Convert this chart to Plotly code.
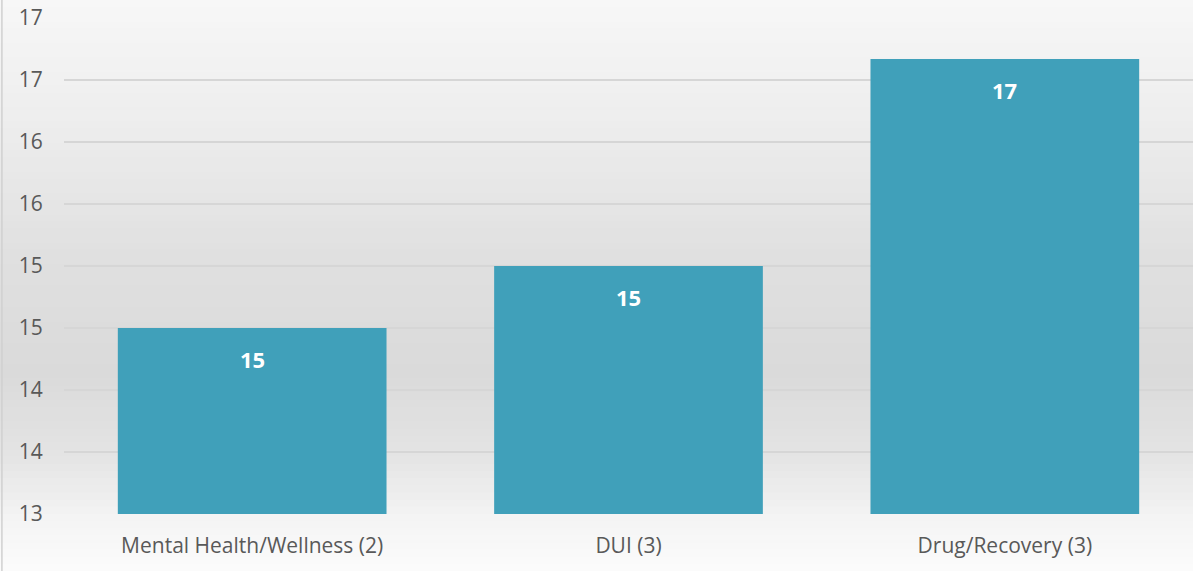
import plotly.graph_objects as go

categories = ["Mental Health/Wellness (2)", "DUI (3)", "Drug/Recovery (3)"]
values = [14.5, 15.0, 16.67]
tick_vals = [13, 13.5, 14, 14.5, 15, 15.5, 16, 16.5, 17]

FONT = "Open Sans"

fig = go.Figure()
fig.add_trace(go.Bar(
    x=categories, y=values,
    marker=dict(color="#40a0ba", line=dict(width=0)),
    width=0.714, hoverinfo="skip",
))

for c, v in zip(categories, values):
    fig.add_annotation(x=c, y=v, text="<b>%d</b>" % int(v + 0.5), showarrow=False,
                       yanchor="top", yshift=-14,
                       font=dict(family=FONT, size=22, color="white"))

def lerp(a, b, t):
    return tuple(int(round(a[i] + (b[i] - a[i]) * t)) for i in range(3))

stops = [(0.0, (247, 247, 247)), (0.2, (238, 238, 238)), (0.45, (224, 224, 224)),
         (0.65, (218, 218, 218)), (0.8, (228, 228, 228)), (0.9, (243, 243, 243)),
         (1.0, (252, 252, 252))]
N = 80
ph = 514 - 18
top_ext = 18 / ph
bot_ext = 57 / ph
span = 1 + top_ext + bot_ext
shapes = []
for i in range(N):
    t = (i + 0.5) / N
    for j in range(len(stops) - 1):
        if stops[j][0] <= t <= stops[j + 1][0]:
            tt = (t - stops[j][0]) / (stops[j + 1][0] - stops[j][0])
            col = lerp(stops[j][1], stops[j + 1][1], tt)
            break
    y0 = 1 - (i + 1) / N - 0.002
    y1 = 1 - i / N
    shapes.append(dict(type="rect", xref="paper", yref="paper", layer="below",
                       x0=-0.06, x1=1.01,
                       y0=-bot_ext + y0 * span, y1=-bot_ext + y1 * span,
                       line=dict(width=0), fillcolor="rgb(%d,%d,%d)" % col))
shapes.append(dict(type="line", xref="paper", yref="paper", x0=-0.055, x1=-0.055,
                   y0=-bot_ext, y1=1 + top_ext, line=dict(color="#d0d0d0", width=1.5)))

fig.update_layout(
    width=1193, height=571,
    margin=dict(l=64, r=0, t=18, b=57),
    paper_bgcolor="white", plot_bgcolor="rgba(0,0,0,0)",
    shapes=shapes, showlegend=False, bargap=0.286,
    font=dict(family=FONT, color="#595959", size=21),
)
fig.update_xaxes(showgrid=False, showline=False, ticks="outside", ticklen=13,
                 tickcolor="rgba(0,0,0,0)", tickfont=dict(size=21, color="#595959"))
fig.update_yaxes(range=[13, 17], tickvals=tick_vals, tickformat=".0f",
                 showgrid=True, gridcolor="#d6d6d6", gridwidth=1.5,
                 zeroline=False, showline=False, ticks="outside", ticklen=16,
                 tickcolor="rgba(0,0,0,0)", tickfont=dict(size=21, color="#595959"))

fig.write_html("out.html", config={"displayModeBar": False},
               post_script="document.body.style.margin='0';document.body.style.padding='0';")
